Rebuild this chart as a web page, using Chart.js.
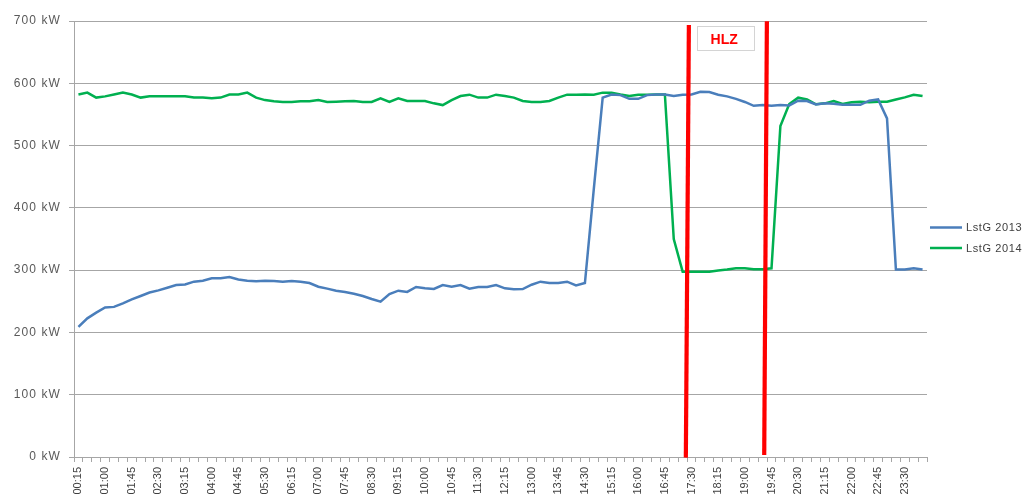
<!DOCTYPE html>
<html>
<head>
<meta charset="utf-8">
<script src="https://cdn.jsdelivr.net/npm/chart.js@4/dist/chart.umd.min.js"></script>
<style>
html,body{margin:0;padding:0;background:#fff;overflow:hidden;}
#wrap{position:relative;width:1027px;height:495px;}
</style>
</head>
<body>
<div id="wrap"><canvas id="c" width="1027" height="495"></canvas></div>
<script>
const timeLabels = [
"00:15","00:30","00:45","01:00","01:15","01:30","01:45","02:00","02:15","02:30","02:45","03:00",
"03:15","03:30","03:45","04:00","04:15","04:30","04:45","05:00","05:15","05:30","05:45","06:00",
"06:15","06:30","06:45","07:00","07:15","07:30","07:45","08:00","08:15","08:30","08:45","09:00",
"09:15","09:30","09:45","10:00","10:15","10:30","10:45","11:00","11:15","11:30","11:45","12:00",
"12:15","12:30","12:45","13:00","13:15","13:30","13:45","14:00","14:15","14:30","14:45","15:00",
"15:15","15:30","15:45","16:00","16:15","16:30","16:45","17:00","17:15","17:30","17:45","18:00",
"18:15","18:30","18:45","19:00","19:15","19:30","19:45","20:00","20:15","20:30","20:45","21:00",
"21:15","21:30","21:45","22:00","22:15","22:30","22:45","23:00","23:15","23:30","23:45","24:00"];

const lstG2013 = [
209,222.6,231.7,240,241,246.7,253,258.5,264,267.5,271.8,276,
277,281.5,283,286.8,287,289,285,283,282,283,282.5,281.5,
282.5,281.5,279.3,273.4,270.3,267,265,262.2,258.5,253.6,249.3,261.7,
267,265,273,270.8,269.7,276,273.5,276,270.3,273,273,276,
270.8,269.2,269.7,276.6,281.5,279.3,279.3,281.5,275.6,279.3,430,577,
582,581,575,575,581,582,582,579.5,581.5,582,586.5,586,
581.7,579,575,570,563.8,565,564,565,564.5,572,571.5,566,
567.8,567,565.5,565.5,565.5,572,574,543.7,301,301,303,301];

const lstG2014 = [
582,585,577,579,582,585,582,577,579,579,579,579,
579,577,577,576,577,582,582,585,577,573,571,570,
570,571,571,573,570,570.5,571,571.5,570,570,576,570,
576,571.5,571.5,571.5,567.8,565,573,579.5,581.7,577,577,581.7,
579.5,577,571.5,570,570,571.5,577,581.7,581.7,582,581.7,585,
585,582,579.5,581.7,581.7,582,582,350,297.5,297.5,297.5,297.5,
299.5,301,303,303,301.5,301.5,303,531.4,566.7,576.9,574,566.2,
567.8,571.5,566.7,569.4,570.4,569.4,570.4,570.4,574,577.4,581.7,579.5];

const seriesNames = ["LstG 2013", "LstG 2014"];
const yTicks = [0,100,200,300,400,500,600,700];

// HLZ window markers (category index / kW)
const hlzTopX = [68.70, 77.48];
const hlzTopY = [693.5, 699.5];
const hlzBottomX = [68.36, 77.18];
const hlzBottomY = [-1, 3.2];
const hlzText = "HLZ";
const hlzTextX = 72.84;
const hlzTextY = 672.8;

const GRID = '#a6a6a6';

const hlzPlugin = {
  id: 'hlz',
  afterDatasetsDraw(chart) {
    const ctx = chart.ctx, xs = chart.scales.x, ys = chart.scales.y;
    ctx.save();
    ctx.strokeStyle = '#ff0000';
    ctx.lineWidth = 4.2;
    ctx.lineCap = 'butt';
    for (let i = 0; i < hlzTopX.length; i++) {
      ctx.beginPath();
      ctx.moveTo(xs.getPixelForValue(hlzTopX[i]), ys.getPixelForValue(hlzTopY[i]));
      ctx.lineTo(xs.getPixelForValue(hlzBottomX[i]), ys.getPixelForValue(hlzBottomY[i]));
      ctx.stroke();
    }
    const cx = xs.getPixelForValue(hlzTextX), cy = ys.getPixelForValue(hlzTextY);
    ctx.fillStyle = '#ffffff';
    ctx.fillRect(Math.round(cx - 28.5) + 0.5, Math.round(cy - 12) + 0.5, 57, 24);
    ctx.strokeStyle = '#d4d4d4';
    ctx.lineWidth = 1;
    ctx.strokeRect(Math.round(cx - 28.5) + 0.5, Math.round(cy - 12) + 0.5, 57, 24);
    ctx.fillStyle = '#ff0000';
    ctx.font = 'bold 14px "Liberation Sans", Arial, sans-serif';
    ctx.textAlign = 'center';
    ctx.textBaseline = 'middle';
    ctx.fillText(hlzText, cx - 1.5, cy + 2.5);
    ctx.restore();
  }
};

const legendPlugin = {
  id: 'sideLegend',
  afterDraw(chart) {
    const ctx = chart.ctx;
    ctx.save();
    ctx.font = '11px "Liberation Sans", Arial, sans-serif';
    try { ctx.letterSpacing = '0.6px'; } catch (e) {}
    ctx.textBaseline = 'middle';
    ctx.textAlign = 'left';
    const ys = [227.5, 248];
    chart.data.datasets.forEach((ds, i) => {
      ctx.strokeStyle = ds.borderColor;
      ctx.lineWidth = 2.5;
      ctx.beginPath();
      ctx.moveTo(930, ys[i]);
      ctx.lineTo(962, ys[i]);
      ctx.stroke();
      ctx.fillStyle = '#404040';
      ctx.fillText(ds.label, 966, ys[i] + 0.5);
    });
    ctx.restore();
  }
};

function spacedLabels(scale, spacing) {
  if (scale._spacedWrap) return;
  const orig = scale.drawLabels.bind(scale);
  scale.drawLabels = function (ca) {
    const ctx = scale.ctx;
    ctx.save();
    try { ctx.letterSpacing = spacing; } catch (e) {}
    orig(ca);
    ctx.restore();
  };
  scale._spacedWrap = true;
}

new Chart(document.getElementById('c'), {
  type: 'line',
  data: {
    labels: timeLabels,
    datasets: [
      { label: seriesNames[0], data: lstG2013, borderColor: '#4a7ebb', backgroundColor: '#4a7ebb',
        borderWidth: 2.5, pointRadius: 0, tension: 0, fill: false },
      { label: seriesNames[1], data: lstG2014, borderColor: '#00b050', backgroundColor: '#00b050',
        borderWidth: 2.5, pointRadius: 0, tension: 0, fill: false }
    ]
  },
  options: {
    responsive: false,
    animation: false,
    events: [],
    layout: { padding: { top: 21, right: 100, left: 0, bottom: 0 } },
    plugins: { legend: { display: false }, tooltip: { enabled: false }, title: { display: false } },
    scales: {
      x: {
        type: 'category',
        offset: true,
        afterFit: s => { s.height = 38; },
        grid: { display: true, drawOnChartArea: false, drawTicks: true, offset: true, tickLength: 5, color: GRID, lineWidth: 1 },
        border: { display: true, color: GRID, width: 1 },
        ticks: {
          autoSkip: false, maxRotation: 90, minRotation: 90, padding: 5,
          color: '#404040',
          font: { family: '"Liberation Sans", Arial, sans-serif', size: 11 },
          callback: function (v, i) { return i % 3 === 0 ? timeLabels[i] : ''; }
        }
      },
      y: {
        min: yTicks[0], max: yTicks[yTicks.length - 1],
        afterFit: s => { s.width = 74; spacedLabels(s, '1.1px'); },
        afterBuildTicks: s => { s.ticks = yTicks.map(v => ({ value: v })); },
        grid: { color: GRID, lineWidth: 1, tickLength: 5, drawTicks: true },
        border: { display: true, color: GRID, width: 1 },
        ticks: {
          padding: 8, color: '#595959',
          font: { family: '"Liberation Sans", Arial, sans-serif', size: 12 },
          callback: v => v + ' kW'
        }
      }
    }
  },
  plugins: [hlzPlugin, legendPlugin]
});
</script>
</body>
</html>
